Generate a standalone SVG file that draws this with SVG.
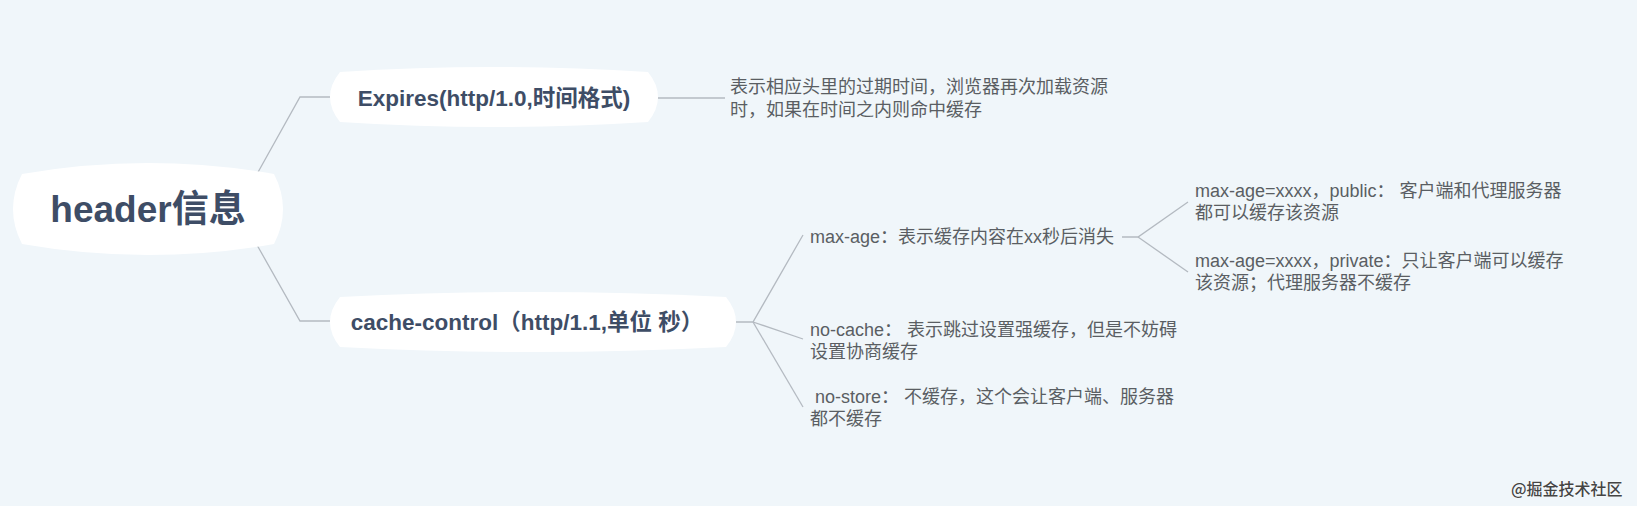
<svg xmlns="http://www.w3.org/2000/svg" width="1637" height="506" viewBox="0 0 1637 506">
<style>
.node{fill:#ffffff;}
.nt{font-family:"Liberation Sans","Noto Sans CJK SC",sans-serif;font-weight:bold;fill:#3e4d66;text-anchor:middle;}
.d{font-family:"Liberation Sans","Noto Sans CJK SC",sans-serif;font-size:18px;fill:#5a5e63;}
.c{fill:none;stroke:#b4bac1;stroke-width:1.3;}
.wm{font-family:"Noto Sans CJK SC",sans-serif;font-size:16px;font-weight:500;fill:#444;stroke:#fff;stroke-width:0.6;paint-order:stroke;}
</style>
<rect width="1637" height="506" fill="#f0f6fa"/>
<g id="connectors">
<polyline class="c" points="257,174 300,97 330,97"/>
<polyline class="c" points="257,245 300,321 330,321"/>
<line class="c" x1="658" y1="98" x2="725" y2="98"/>
<polyline class="c" points="736,322 753,322 803,235"/>
<polyline class="c" points="753,322 803,339"/>
<polyline class="c" points="753,322 803,407"/>
<polyline class="c" points="1122,237 1138,237 1188,202"/>
<polyline class="c" points="1138,237 1188,272"/>
</g>
<g id="root">
<path class="node" d="M22,174 Q148,152 274,174 Q292,209 274,244 Q148,266 22,244 Q4,209 22,174 Z"/>
<text class="nt" x="148" y="222" font-size="37">header信息</text>
</g>
<g id="expires">
<path class="node" d="M340,72 Q494,62 648,72 Q668,97 648,122 Q494,132 340,122 Q320,97 340,72 Z"/>
<text class="nt" x="494" y="106" font-size="22.5">Expires(http/1.0,时间格式)</text>
</g>
<g id="expires-desc">
<text class="d" x="730" y="93">表示相应头里的过期时间，浏览器再次加载资源</text>
<text class="d" x="730" y="116">时，如果在时间之内则命中缓存</text>
</g>
<g id="cache-control">
<path class="node" d="M340,297 Q533,287 726,297 Q746,322 726,347 Q533,357 340,347 Q320,322 340,297 Z"/>
<text class="nt" x="527" y="330" font-size="22.5">cache-control（http/1.1,单位 秒）</text>
</g>
<g id="max-age">
<text class="d" x="810" y="243">max-age：表示缓存内容在xx秒后消失</text>
</g>
<g id="public">
<text class="d" x="1195" y="197">max-age=xxxx，public： 客户端和代理服务器</text>
<text class="d" x="1195" y="219">都可以缓存该资源</text>
</g>
<g id="private">
<text class="d" x="1195" y="267">max-age=xxxx，private：只让客户端可以缓存</text>
<text class="d" x="1195" y="289">该资源；代理服务器不缓存</text>
</g>
<g id="no-cache">
<text class="d" x="810" y="336">no-cache： 表示跳过设置强缓存，但是不妨碍</text>
<text class="d" x="810" y="358">设置协商缓存</text>
</g>
<g id="no-store">
<text class="d" x="810" y="403" xml:space="preserve"> no-store： 不缓存，这个会让客户端、服务器</text>
<text class="d" x="810" y="425">都不缓存</text>
</g>
<text class="wm" x="1511" y="495">@掘金技术社区</text>
</svg>
